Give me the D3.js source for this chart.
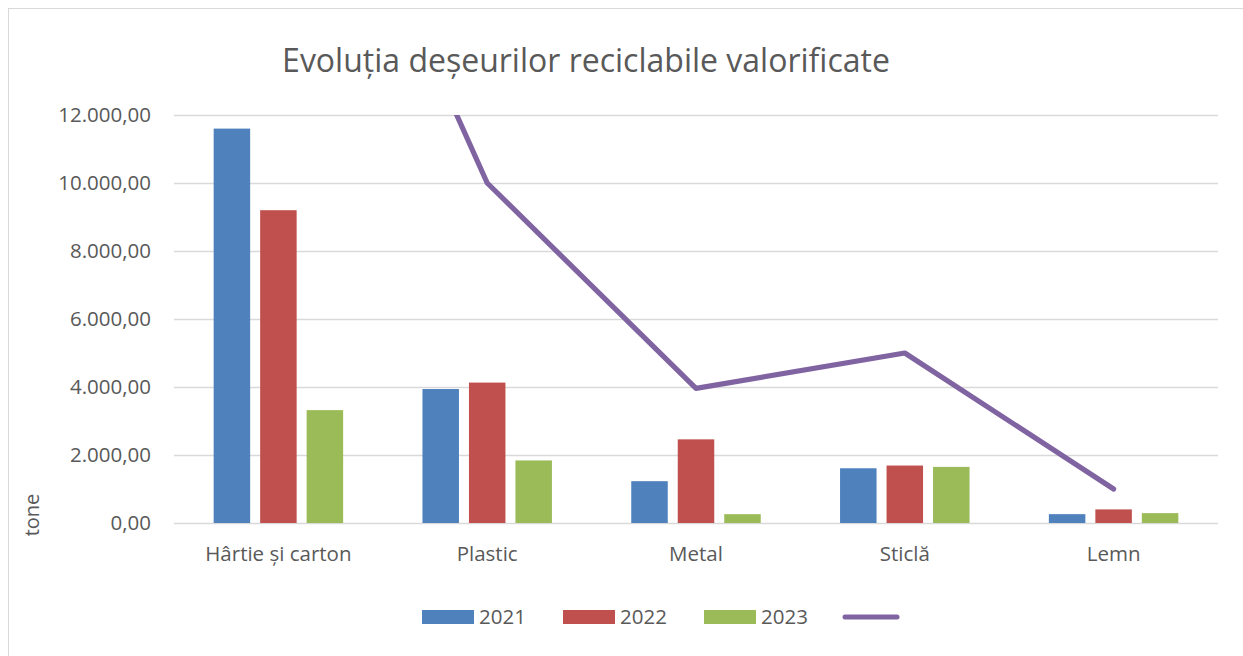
<!DOCTYPE html>
<html lang="ro">
<head>
<meta charset="UTF-8">
<title>Evoluția deșeurilor reciclabile valorificate</title>
<script src="https://d3js.org/d3.v7.min.js"></script>
<style>
  body { margin: 0; background: #fff; }
  text { font-family: "Open Sans", "Noto Sans", sans-serif; fill: #595959; }
</style>
</head>
<body>
<script>
// data
var categories = ["Hârtie și carton", "Plastic", "Metal", "Sticlă", "Lemn"];
var years = ["2021", "2022", "2023"];
var v2021 = [11600, 3940, 1230, 1610, 260];
var v2022 = [9200, 4130, 2460, 1690, 400];
var v2023 = [3320, 1840, 260, 1650, 290];
var lineValues = [23700, 10000, 3960, 5000, 1000];
var yTicks = [0, 2000, 4000, 6000, 8000, 10000, 12000];
var colors = ["#4F81BD", "#C0504D", "#9BBB59"];
var lineColor = "#8064A2";

var series = [v2021, v2022, v2023];

var W = 1243, H = 656;
var pLeft = 174, pRight = 1218, pTop = 115, pBottom = 523;

var svg = d3.select("body").append("svg")
    .attr("width", W)
    .attr("height", H);

// chart border
svg.append("rect")
    .attr("x", 8.5).attr("y", 8.5)
    .attr("width", W).attr("height", H)
    .attr("fill", "none")
    .attr("stroke", "#d9d9d9");

var x0 = d3.scaleBand().domain(categories).range([pLeft, pRight]);
var x1 = d3.scaleBand().domain(years).range([0, x0.bandwidth()])
    .paddingInner(0.215).paddingOuter(0.853);
var y = d3.scaleLinear().domain([0, 12000]).range([pBottom, pTop]);

var ro = d3.formatLocale({decimal: ",", thousands: ".", grouping: [3], currency: ["", " lei"]});
var fmt = ro.format(",.2f");

// gridlines
svg.append("g").selectAll("line")
    .data(yTicks)
    .join("line")
    .attr("x1", pLeft).attr("x2", pRight)
    .attr("y1", function (d) { return Math.round(y(d)) + 0.5; })
    .attr("y2", function (d) { return Math.round(y(d)) + 0.5; })
    .attr("stroke", "#d9d9d9")
    .attr("stroke-width", 1.5);

// y axis labels
svg.append("g").selectAll("text")
    .data(yTicks)
    .join("text")
    .attr("x", 151)
    .attr("y", function (d) { return y(d); })
    .attr("dy", "0.35em")
    .attr("text-anchor", "end")
    .style("font-size", "20.5px")
    .text(function (d) { return fmt(d); });

// bars
var groups = svg.append("g").selectAll("g")
    .data(categories)
    .join("g")
    .attr("transform", function (d) { return "translate(" + x0(d) + ",0)"; });

groups.selectAll("rect")
    .data(function (d, i) {
        return years.map(function (yr, j) { return {year: yr, value: series[j][i], k: j}; });
    })
    .join("rect")
    .attr("x", function (d) { return x1(d.year); })
    .attr("width", x1.bandwidth())
    .attr("y", function (d) { return y(d.value); })
    .attr("height", function (d) { return y(0) - y(d.value); })
    .attr("fill", function (d) { return colors[d.k]; });

// category labels
svg.append("g").selectAll("text")
    .data(categories)
    .join("text")
    .attr("x", function (d) { return x0(d) + x0.bandwidth() / 2; })
    .attr("y", 561)
    .attr("text-anchor", "middle")
    .style("font-size", "20.5px")
    .text(function (d) { return d; });

// line, clipped to plot area
svg.append("clipPath").attr("id", "plotclip")
    .append("rect")
    .attr("x", pLeft).attr("y", pTop)
    .attr("width", pRight - pLeft).attr("height", pBottom - pTop);

var line = d3.line()
    .x(function (d, i) { return x0(categories[i]) + x0.bandwidth() / 2; })
    .y(function (d) { return y(d); });

svg.append("path")
    .datum(lineValues)
    .attr("clip-path", "url(#plotclip)")
    .attr("d", line)
    .attr("fill", "none")
    .attr("stroke", lineColor)
    .attr("stroke-width", 5.2)
    .attr("stroke-linejoin", "round")
    .attr("stroke-linecap", "round");

// title
svg.append("text")
    .attr("x", 586)
    .attr("y", 72)
    .attr("text-anchor", "middle")
    .style("font-size", "32px")
    .text("Evoluția deșeurilor reciclabile valorificate");

// y axis title
svg.append("text")
    .attr("transform", "translate(39,515) rotate(-90)")
    .attr("text-anchor", "middle")
    .style("font-size", "20px")
    .text("tone");

// legend
var legendX = [422, 563, 704];
var lg = svg.append("g");
years.forEach(function (yr, j) {
    lg.append("rect")
        .attr("x", legendX[j]).attr("y", 610)
        .attr("width", 52).attr("height", 14)
        .attr("fill", colors[j]);
    lg.append("text")
        .attr("x", legendX[j] + 57).attr("y", 617)
        .attr("dy", "0.35em")
        .style("font-size", "20.5px")
        .text(yr);
});
lg.append("line")
    .attr("x1", 845).attr("x2", 897)
    .attr("y1", 617).attr("y2", 617)
    .attr("stroke", lineColor)
    .attr("stroke-width", 5)
    .attr("stroke-linecap", "round");
</script>
</body>
</html>
